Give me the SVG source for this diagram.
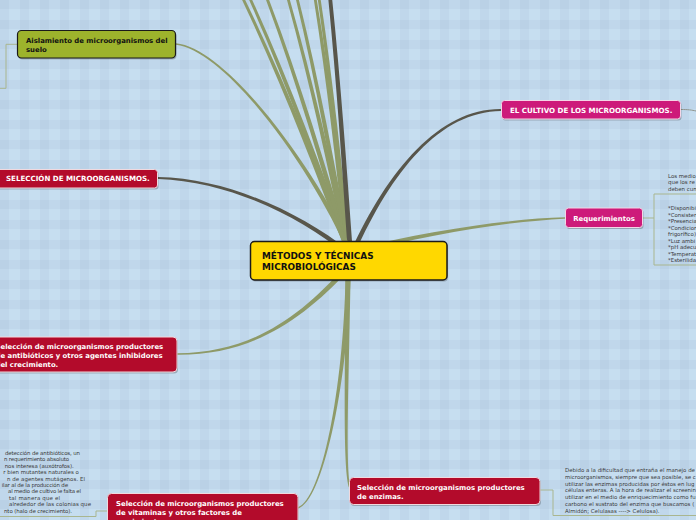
<svg xmlns="http://www.w3.org/2000/svg" width="696" height="520" viewBox="0 0 696 520">
<style>
.nt{font-family:"DejaVu Sans",Verdana,sans-serif;font-weight:bold;font-size:6.9px}
.up{font-size:7.1px}
.ct{font-family:"DejaVu Sans",Verdana,sans-serif;font-weight:bold;font-size:8.9px;fill:#111}
.w{fill:#fff}
.k{fill:#111}
.note{font-family:"DejaVu Sans",Verdana,sans-serif;font-size:5.45px;fill:#3a3a3a}
.ol{fill:#8e9a68}
.dk{fill:#58564b}
.sub{fill:none;stroke:#a9b68f;stroke-width:1}
.red{fill:#b30b2b;stroke:#f1d9de;stroke-width:1}
.mag{fill:#cd1a7a;stroke:#f3d6e6;stroke-width:1}
.sh{fill:#000;fill-opacity:0.22}
</style>
<defs>
<pattern id="bg" width="20" height="20" patternUnits="userSpaceOnUse">
<rect width="20" height="20" fill="#c6def0"/>
<rect width="9" height="20" fill="#8aa0bf" fill-opacity="0.1"/>
<rect width="20" height="9" fill="#8aa0bf" fill-opacity="0.1"/>
</pattern>
</defs>
<rect width="696" height="520" fill="url(#bg)"/>

<g id="connectors">
<path class="ol" d="M237.3,-10 C278.9,75.8 312.6,164.2 345.2,250 L350.8,250 C317.4,164.2 282.7,75.8 240.3,-10 Z"/>
<path class="ol" d="M244.6,-10 C283.8,75.8 315,164.2 345.2,250 L350.8,250 C319.8,164.2 287.7,75.8 247.6,-10 Z"/>
<path class="ol" d="M262.3,-10 C294.7,75.8 320.4,164.2 345.3,250 L350.7,250 C325,164.2 298.5,75.8 265.3,-10 Z"/>
<path class="ol" d="M284.2,-10 C308.4,75.8 327.2,164.2 345.4,250 L350.6,250 C331.6,164.2 312,75.8 287,-10 Z"/>
<path class="ol" d="M293.6,-10 C314.7,75.8 330.3,164.2 345.4,250 L350.6,250 C334.7,164.2 318.3,75.8 296.4,-10 Z"/>
<path class="ol" d="M312.3,-10 C326.2,75.8 336,164.2 345.4,250 L350.6,250 C340.4,164.2 329.8,75.8 315.1,-10 Z"/>
<path class="ol" d="M316.4,-10 C329,75.8 337.3,164.2 345.4,250 L350.6,250 C341.7,164.2 332.6,75.8 319.2,-10 Z"/>
<path class="dk" d="M327.4,-10 C336,75 341.9,163 347.5,248 L352.5,248 C346.5,163 340.2,75 331.2,-10 Z"/>
<path class="ol" d="M175.9,44.7 C229.9,51.3 318.3,180.7 347.7,253 L352.3,251 C321.8,179.3 230.1,48.7 176.1,43.3 Z"/>
<path class="dk" d="M158,178.9 C230,181.4 298.9,216.4 345.6,253.8 L348.4,250.2 C301.1,213.6 230,178.6 158,177.1 Z"/>
<path class="dk" d="M501,109.1 C440,108.6 388.3,169.3 350.9,251.1 L355.1,253 C391.7,170.8 440,111.4 501,110.9 Z"/>
<path class="ol" d="M565,217.3 C510,218.7 429.5,230.2 351.4,249.6 L352.6,254.4 C430.5,233.8 510.1,221.3 565,218.7 Z"/>
<path class="ol" d="M177,354.7 C250,355.3 301.4,321.3 348.9,269.7 L345.2,266.3 C298.6,318.7 250,352.7 177,353.3 Z"/>
<path class="ol" d="M298.2,508.7 C322.4,501.2 346.9,390.1 350.5,278.1 L345.5,277.9 C343.1,390 321.6,498.8 297.8,507.3 Z"/>
<path class="ol" d="M350.7,487.8 C345.2,469.6 348.9,380 350.5,278 L345.5,278 C345.1,380 342.8,470.4 349.3,488.2 Z"/>
<path class="sub" d="M17,44.3 H6 V88.3 H0"/>
<path class="sub" d="M642,218 H654 M654,194 V265 M654,194 H696 M654,265 H696"/>
<path class="sub" d="M540,490 H553 V515.5 H696"/>
<path class="sub" d="M107,511 H96 V516.5 H0"/>
<path d="M681,109.5 C688,109.5 692,110 696,111" fill="none" stroke="#8f948c" stroke-width="1"/>
</g>

<g id="n-center">
<rect x="251.5" y="243" width="196.5" height="38.5" rx="4" class="sh"/>
<rect x="250.5" y="241.5" width="196.5" height="38.5" rx="4" fill="#ffd800" stroke="#1a1a1a" stroke-width="1.5"/>
<text class="ct" x="262" y="259.3">MÉTODOS Y TÉCNICAS</text>
<text class="ct" x="262" y="269.8">MICROBIOLÓGICAS</text>
</g>

<g id="n-aislamiento">
<rect x="18.5" y="32" width="158" height="27.5" rx="4" class="sh"/>
<rect x="17.5" y="30.5" width="158" height="27.5" rx="4" fill="#9db32c" stroke="#1a1a1a" stroke-width="1.2"/>
<text class="nt k" x="26" y="43">Aislamiento de microorganismos del</text>
<text class="nt k" x="26" y="51.5">suelo</text>
</g>

<g id="n-seleccion">
<rect x="-5" y="171" width="163.5" height="18.5" rx="3" class="sh"/>
<rect x="-6" y="169.5" width="163.5" height="18.5" rx="3" class="red"/>
<text class="nt up w" x="6" y="181.3">SELECCIÓN DE MICROORGANISMOS.</text>
</g>

<g id="n-antibioticos">
<rect x="-9" y="338.5" width="187" height="35" rx="4" class="sh"/>
<rect x="-10" y="337" width="187" height="35" rx="4" class="red"/>
<text class="nt w" x="-4.5" y="348.5">Selección de microorganismos productores</text>
<text class="nt w" x="-4.5" y="357.5">de antibióticos y otros agentes inhibidores</text>
<text class="nt w" x="-4.5" y="366.5">del crecimiento.</text>
</g>

<g id="n-cultivo">
<rect x="502.5" y="102" width="179" height="18.5" rx="3" class="sh"/>
<rect x="501.5" y="100.5" width="179" height="18.5" rx="3" class="mag"/>
<text class="nt up w" x="510" y="113.2">EL CULTIVO DE LOS MICROORGANISMOS.</text>
</g>

<g id="n-requerimientos">
<rect x="566.5" y="209.5" width="77" height="19.5" rx="3" class="sh"/>
<rect x="565.5" y="208" width="77" height="19.5" rx="3" class="mag"/>
<text class="nt w" x="573.3" y="220.8">Requerimientos</text>
</g>

<g id="n-requerimientos-note">
<text class="note" x="668" y="177.5">Los medio</text>
<text class="note" x="668" y="184.3">que los re</text>
<text class="note" x="668" y="191.1">deben cum</text>
<text class="note" x="668" y="210">*Disponibi</text>
<text class="note" x="668" y="216.5">*Consisten</text>
<text class="note" x="668" y="223">*Presencia</text>
<text class="note" x="668" y="229.5">*Condicion</text>
<text class="note" x="668" y="236">frigorífico)</text>
<text class="note" x="668" y="242.5">*Luz ambi</text>
<text class="note" x="668" y="249">*pH adecu</text>
<text class="note" x="668" y="255.5">*Temperat</text>
<text class="note" x="668" y="262">*Esterilida</text>
</g>

<g id="n-enzimas">
<rect x="350.5" y="479" width="190.5" height="27" rx="4" class="sh"/>
<rect x="349.5" y="477.5" width="190.5" height="27" rx="4" class="red"/>
<text class="nt w" x="357" y="489.5">Selección de microorganismos productores</text>
<text class="nt w" x="357" y="498.5">de enzimas.</text>
</g>

<g id="n-enzimas-note">
<text class="note" x="565" y="472">Debido a la dificultad que entraña el manejo de</text>
<text class="note" x="565" y="478.8">microorganismos, siempre que sea posible, se c</text>
<text class="note" x="565" y="485.6">utilizar las enzimas producidas por éstos en lug</text>
<text class="note" x="565" y="492.4">células enteras. A la hora de realizar el screenin</text>
<text class="note" x="565" y="499.2">utilizar en el medio de enriquecimiento como fu</text>
<text class="note" x="565" y="506">carbono el sustrato del enzima que buscamos (</text>
<text class="note" x="565" y="512.8">Almidón; Celulasas ----&gt; Celulosa).</text>
</g>

<g id="n-vitaminas">
<rect x="108.5" y="495" width="190.5" height="40" rx="4" class="sh"/>
<rect x="107.5" y="493.5" width="190.5" height="40" rx="4" class="red"/>
<text class="nt w" x="116" y="506">Selección de microorganismos productores</text>
<text class="nt w" x="116" y="515">de vitaminas y otros factores de</text>
<text class="nt w" x="116" y="524">crecimiento</text>
</g>

<g id="n-vitaminas-note">
<text class="note" x="5" y="455" textLength="75" lengthAdjust="spacing">detección de antibióticos, un</text>
<text class="note" x="4" y="461.4" textLength="65" lengthAdjust="spacing">n requerimiento absoluto</text>
<text class="note" x="4.7" y="467.8" textLength="69" lengthAdjust="spacing">nos interesa (auxótrofos).</text>
<text class="note" x="3.3" y="474.2" textLength="75.5" lengthAdjust="spacing">r bien mutantes naturales o</text>
<text class="note" x="7" y="480.6" textLength="78" lengthAdjust="spacing">n de agentes mutágenos. El</text>
<text class="note" x="1.7" y="487" textLength="66.3" lengthAdjust="spacing">ilar al de la producción de</text>
<text class="note" x="8" y="493.4" textLength="73" lengthAdjust="spacing">al medio de cultivo le falta el</text>
<text class="note" x="9" y="499.8" textLength="51" lengthAdjust="spacing">tal manera que el</text>
<text class="note" x="9" y="506.2" textLength="82" lengthAdjust="spacing">alrededor de las colonias que</text>
<text class="note" x="4" y="512.6" textLength="68" lengthAdjust="spacing">nto (halo de crecimiento).</text>
</g>
</svg>
